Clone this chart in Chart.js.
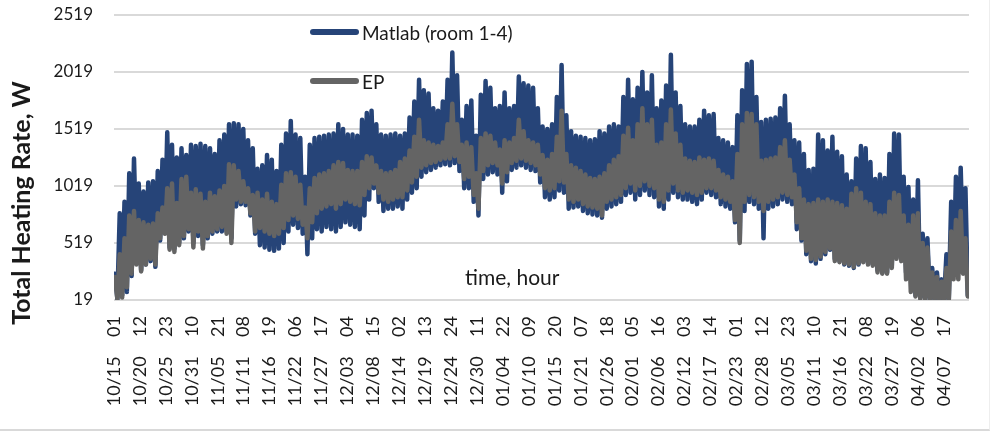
<!DOCTYPE html>
<html>
<head>
<meta charset="utf-8">
<script src="https://cdn.jsdelivr.net/npm/chart.js@4.4.1/dist/chart.umd.min.js"></script>
<style>
  html, body { margin: 0; padding: 0; background: #fff; }
  #wrap { position: relative; width: 992px; height: 433px; }
  #wrap canvas { position: absolute; left: 0; top: 0; }
  #frame { position: absolute; left: 0; top: 0; width: 989px; height: 429px;
           border-right: 1px solid #eeeeee; border-bottom: 2px solid #d9d9d9; pointer-events: none; }
</style>
</head>
<body>
<div id="wrap">
  <canvas id="chart" width="992" height="433"></canvas>
  <div id="frame"></div>
</div>
<script>
// Hourly heating season, 10/15 01 .. 04/12 24 (4320 hours); ticks every 131 hours
const tickLabels = ['10/15 01','10/20 12','10/25 23','10/31 10','11/05 21','11/11 08','11/16 19','11/22 06','11/27 17',
  '12/03 04','12/08 15','12/14 02','12/19 13','12/24 24','12/30 11','01/04 22','01/10 09','01/15 20','01/21 07',
  '01/26 18','02/01 05','02/06 16','02/12 03','02/17 14','02/23 01','02/28 12','03/05 23','03/11 10','03/16 21',
  '03/22 08','03/27 19','04/02 06','04/07 17'];
const tickStepHours = 131;
const totalHours = 4320;

// Daily peak and trough of the total heating rate (W), one entry per day
const matlabHigh = [
  250, 780, 880, 1130, 1260, 1040, 970, 1050, 1060, 1150, 1250, 1490, 1380, 1270, 1350, 1290, 1380, 1370, 1390, 1370, 1350, 1300, 1420, 1470, 1560, 1570, 1560, 1520, 1420, 1350,
  1170, 1200, 1290, 1250, 1150, 1380, 1480, 1590, 1470, 1440, 1100, 1380, 1440, 1450, 1460, 1470, 1480, 1560, 1520, 1470, 1470, 1460, 1600, 1660, 1680, 1560, 1470, 1460, 1470, 1480,
  1460, 1480, 1620, 1760, 1950, 1860, 1830, 1700, 1680, 1760, 1950, 2190, 1990, 1600, 1720, 1770, 1460, 1820, 1940, 1880, 1700, 1720, 1840, 1700, 1720, 1980, 1920, 1900, 1880, 1700,
  1540, 1520, 1560, 1800, 2080, 1640, 1500, 1460, 1450, 1440, 1420, 1430, 1500, 1480, 1540, 1560, 1540, 1800, 1950, 1780, 1880, 2020, 1840, 1990, 1700, 1770, 1900, 2170, 1840, 1720,
  1560, 1540, 1540, 1600, 1680, 1640, 1650, 1440, 1420, 1400, 1360, 1640, 1860, 2090, 2110, 1800, 1580, 1600, 1610, 1620, 1700, 1810, 1560, 1420, 1400, 1300, 1160, 1170, 1470, 1420, 1330,
  1450, 1320, 1280, 1120, 1060, 1260, 1370, 1350, 1230, 1080, 1120, 1090, 1300, 1480, 1470, 1100, 1010, 900, 1070, 600, 560, 300, 260, 200, 420, 880, 1100, 1180, 1000
];
const matlabLow = [
  30, 60, 90, 230, 470, 280, 330, 360, 310, 540, 620, 480, 470, 520, 560, 620, 520, 580, 500, 560, 600, 620, 620, 620, 560, 840, 860, 850, 760, 600,
  500, 480, 460, 450, 470, 520, 620, 680, 650, 600, 420, 560, 640, 620, 660, 640, 620, 660, 700, 680, 660, 640, 760, 900, 1000, 880, 800, 820, 820, 840,
  820, 900, 960, 1000, 1100, 1140, 1160, 1180, 1200, 1210, 1200, 1220, 1150, 1000, 1000, 880, 760, 1080, 1120, 1140, 1120, 960, 1060, 1160, 1180, 1200, 1180, 1160, 1150, 1050,
  920, 900, 920, 980, 960, 820, 830, 840, 800, 780, 770, 760, 740, 820, 840, 860, 880, 940, 960, 900, 940, 980, 940, 920, 840, 820, 900, 960, 920, 900,
  900, 880, 860, 900, 960, 940, 920, 860, 840, 820, 700, 540, 800, 880, 860, 820, 560, 820, 840, 860, 900, 880, 860, 640, 540, 420, 360, 340, 380, 420, 460,
  380, 360, 330, 320, 300, 330, 360, 340, 330, 280, 260, 260, 320, 400, 380, 260, 200, 60, 40, 40, 30, 25, 20, 20, 30, 250, 360, 380, 60
];
const epHigh = [
  220, 420, 560, 760, 800, 720, 700, 680, 690, 780, 830, 1000, 1040, 870, 1080, 1100, 960, 990, 950, 880, 960, 930, 980, 1020, 1210, 1200, 1150, 1060, 1000, 940,
  960, 900, 950, 880, 860, 1030, 1130, 1140, 1100, 1030, 830, 1000, 1090, 1120, 1130, 1150, 1200, 1230, 1220, 1160, 1150, 1150, 1230, 1280, 1270, 1200, 1150, 1130, 1140, 1160,
  1230, 1260, 1330, 1450, 1600, 1420, 1400, 1380, 1370, 1400, 1560, 1740, 1560, 1380, 1400, 1360, 1130, 1440, 1480, 1460, 1400, 1340, 1420, 1400, 1440, 1600, 1500, 1420, 1400, 1380,
  1290, 1250, 1300, 1450, 1680, 1300, 1200, 1180, 1150, 1120, 1090, 1080, 1100, 1130, 1200, 1250, 1280, 1460, 1530, 1420, 1560, 1700, 1560, 1600, 1380, 1400, 1560, 1690, 1480, 1380,
  1260, 1240, 1230, 1270, 1250, 1260, 1240, 1160, 1120, 1100, 1060, 1300, 1560, 1660, 1650, 1560, 1240, 1250, 1260, 1270, 1360, 1420, 1250, 1120, 1000, 900, 860, 870, 900, 880, 900,
  880, 870, 850, 820, 950, 1000, 960, 880, 860, 780, 760, 760, 880, 960, 940, 760, 680, 760, 780, 520, 480, 260, 220, 180, 300, 620, 720, 800, 560
];
const epLow = [
  30, 40, 130, 250, 330, 270, 330, 380, 330, 560, 600, 460, 440, 500, 580, 640, 480, 620, 470, 580, 620, 640, 660, 600, 520, 900, 880, 880, 780, 620,
  650, 620, 600, 580, 600, 650, 720, 760, 730, 680, 560, 700, 780, 820, 840, 860, 820, 860, 900, 880, 860, 850, 940, 1000, 1040, 960, 900, 880, 900, 920,
  920, 980, 1050, 1100, 1180, 1200, 1220, 1230, 1250, 1260, 1260, 1280, 1230, 1080, 1100, 940, 820, 1150, 1200, 1220, 1200, 1040, 1140, 1220, 1240, 1260, 1240, 1220, 1200, 1120,
  1000, 980, 1000, 1060, 1050, 900, 880, 900, 860, 840, 830, 820, 760, 880, 900, 920, 940, 1000, 1040, 980, 1020, 1060, 1020, 1000, 900, 880, 980, 1040, 980, 960,
  980, 960, 940, 960, 1000, 1000, 980, 920, 900, 880, 720, 520, 880, 940, 920, 880, 800, 880, 900, 920, 960, 940, 920, 700, 560, 450, 380, 370, 400, 440, 470,
  360, 350, 340, 330, 310, 340, 350, 330, 320, 260, 250, 250, 300, 380, 360, 200, 90, 50, 30, 30, 25, 20, 20, 20, 25, 200, 200, 250, 50
];

const seriesNames = ['Matlab (room 1-4)', 'EP'];
const seriesColors = ['#264478', '#646464'];
const yTitle = 'Total Heating Rate, W';
const xTitle = 'time, hour';
const yMin = 19, yMax = 2519, yStep = 500;

// Each day contributes its peak (morning) and trough (afternoon) hour
function dailyPoints(high, low) {
  const pts = [];
  high.forEach((h, d) => {
    pts.push({ x: d * 24 + 6, y: h });
    pts.push({ x: d * 24 + 18, y: low[d] });
  });
  return pts;
}

const tickHours = tickLabels.map((_, i) => 1 + i * tickStepHours);
const FONT = 'Lato';
const TEXT = '#1a1a1a';

// Axis titles and legend drawn inside the plot
const chartTexts = {
  id: 'chartTexts',
  afterDraw(chart) {
    const ctx = chart.ctx;
    ctx.save();
    ctx.fillStyle = TEXT;

    // vertical axis title
    ctx.save();
    ctx.font = `bold 25px ${FONT}`;
    ctx.translate(30, 203);
    ctx.rotate(-Math.PI / 2);
    ctx.textAlign = 'center';
    ctx.textBaseline = 'alphabetic';
    ctx.fillText(yTitle, 0, 0);
    ctx.restore();

    // horizontal axis title
    ctx.font = `21px ${FONT}`;
    ctx.textAlign = 'left';
    ctx.textBaseline = 'alphabetic';
    ctx.fillText(xTitle, 465, 285);

    // legend
    const rows = [32, 81];
    chart.data.datasets.forEach((ds, i) => {
      const y = rows[i];
      ctx.strokeStyle = ds.borderColor;
      ctx.lineWidth = 6;
      ctx.lineCap = 'round';
      ctx.beginPath();
      ctx.moveTo(313, y);
      ctx.lineTo(356, y);
      ctx.stroke();
      ctx.fillStyle = TEXT;
      ctx.font = `19px ${FONT}`;
      ctx.fillText(ds.label, 362, y + 8);
    });
    ctx.restore();
  }
};

new Chart(document.getElementById('chart'), {
  type: 'line',
  data: {
    datasets: [
      { label: seriesNames[0], data: dailyPoints(matlabHigh, matlabLow), borderColor: seriesColors[0], order: 2 },
      { label: seriesNames[1], data: dailyPoints(epHigh, epLow), borderColor: seriesColors[1], order: 1 }
    ]
  },
  options: {
    responsive: false,
    animation: false,
    devicePixelRatio: 1,
    layout: { padding: { top: 15, right: 23, left: 0, bottom: 0 } },
    elements: {
      line: { borderWidth: 4.5, tension: 0, borderJoinStyle: 'round', borderCapStyle: 'round', fill: false },
      point: { radius: 0 }
    },
    plugins: { legend: { display: false }, tooltip: { enabled: false } },
    scales: {
      x: {
        type: 'linear',
        min: 1,
        max: totalHours,
        afterBuildTicks: (scale) => { scale.ticks = tickHours.map(v => ({ value: v })); },
        afterFit: (scale) => { scale.height = 133; scale.paddingLeft = 0; scale.paddingRight = 0; },
        grid: { display: false, drawTicks: false },
        border: { display: false },
        ticks: {
          autoSkip: false,
          minRotation: 90,
          maxRotation: 90,
          padding: 16,
          color: TEXT,
          font: { family: FONT, size: 18 },
          callback: (value, index) => tickLabels[index].replace(' ', '\u2003\u2004')
        }
      },
      y: {
        min: yMin,
        max: yMax,
        afterFit: (scale) => { scale.width = 114; scale.paddingTop = 0; scale.paddingBottom = 0; },
        grid: { color: '#d9d9d9', lineWidth: 2, drawTicks: false },
        border: { display: false },
        ticks: { stepSize: yStep, padding: 21, color: TEXT, font: { family: FONT, size: 17 },
                 callback: (value) => String(value) }
      }
    }
  },
  plugins: [chartTexts]
});
</script>
</body>
</html>
